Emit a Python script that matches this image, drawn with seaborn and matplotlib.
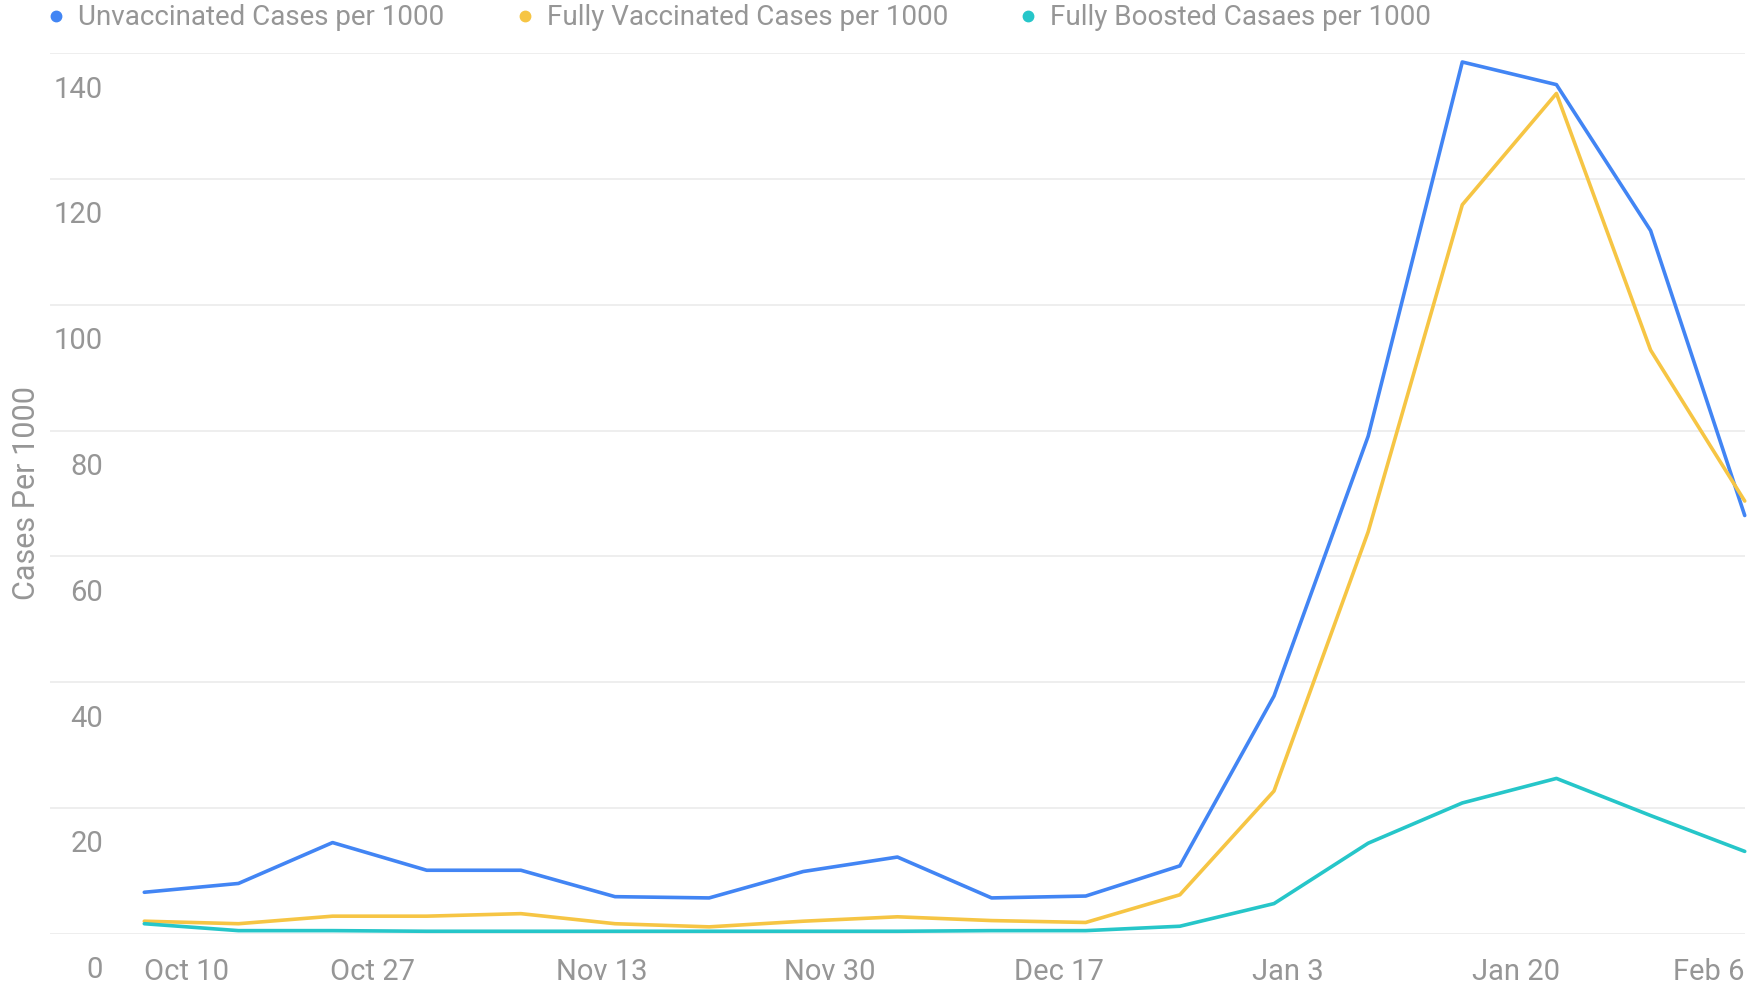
import matplotlib
matplotlib.use("Agg")
import matplotlib.pyplot as plt
from matplotlib.transforms import ScaledTranslation
from matplotlib.lines import Line2D
import seaborn as sns
import pandas as pd
import numpy as np

weeks = pd.date_range("2021-10-10", "2022-02-06", freq="7D")
unvaccinated = [6.6, 8.0, 14.5, 10.1, 10.1, 5.9, 5.7, 9.9, 12.2, 5.7, 6.0, 10.8,
                37.8, 79.1, 138.6, 135.0, 111.8, 66.5]
fully_vaccinated = [2.0, 1.6, 2.8, 2.8, 3.2, 1.6, 1.1, 2.0, 2.7, 2.1, 1.8, 6.2,
                    22.7, 63.9, 115.9, 133.6, 92.8, 68.8]
fully_boosted = [1.6, 0.5, 0.5, 0.4, 0.4, 0.4, 0.4, 0.4, 0.4, 0.5, 0.5, 1.2,
                 4.8, 14.4, 20.8, 24.7, 18.8, 13.1]
series_names = ["Unvaccinated Cases per 1000", "Fully Vaccinated Cases per 1000",
                "Fully Boosted Casaes per 1000"]
colors = ["#4285F4", "#F6C544", "#26C6C9"]
tick_dates = pd.to_datetime(["2021-10-10", "2021-10-27", "2021-11-13", "2021-11-30",
                             "2021-12-17", "2022-01-03", "2022-01-20", "2022-02-06"])
tick_labels = ["Oct 10", "Oct 27", "Nov 13", "Nov 30", "Dec 17", "Jan 3", "Jan 20", "Feb 6"]
y_ticks = [0, 20, 40, 60, 80, 100, 120, 140]

df = pd.DataFrame({
    "date": np.tile(weeks, 3),
    "value": unvaccinated + fully_vaccinated + fully_boosted,
    "series": np.repeat(series_names, len(weeks)),
})

sns.set_theme(style="white")
plt.rcParams["font.family"] = ["Roboto", "DejaVu Sans"]
text_color = "#969696"

fig = plt.figure(figsize=(17.47, 9.85), dpi=100)
ax = fig.add_axes([0.0287, 0.052, 0.970, 0.894])

sns.lineplot(data=df, x="date", y="value", hue="series", hue_order=series_names,
             palette=colors, linewidth=2.6, ax=ax, legend=False)
for ln in ax.lines:
    ln.set_clip_on(False)

ax.set_xlim(weeks[0] - pd.Timedelta(days=7), weeks[-1])
ax.set_ylim(0, 140)
for s in ax.spines.values():
    s.set_visible(False)

ax.set_yticks(y_ticks)
ax.yaxis.grid(True, color="#ebebeb", linewidth=1.2)
ax.set_axisbelow(True)
ax.tick_params(axis="y", length=0, pad=-38, labelsize=21, labelcolor=text_color)
offset = ScaledTranslation(0, -0.335, fig.dpi_scale_trans)
for lab in ax.get_yticklabels():
    lab.set_horizontalalignment("right")
    lab.set_transform(lab.get_transform() + offset)

ax.set_xticks(tick_dates)
ax.set_xticklabels(tick_labels)
ax.tick_params(axis="x", length=0, pad=17.5, labelsize=21, labelcolor=text_color)
xl = ax.get_xticklabels()
xl[0].set_horizontalalignment("left")
xl[-1].set_horizontalalignment("right")

ax.set_xlabel("")
ax.set_ylabel("Cases Per 1000", fontsize=22, color=text_color, va="center")
ax.yaxis.set_label_coords(-0.0138, 0.5)

handles = [Line2D([], [], linestyle="none", marker="o", markersize=7.5, color=c) for c in colors]
fig.legend(handles, series_names, loc="upper left", bbox_to_anchor=(0.0258, 0.9955),
           ncol=3, frameon=False, labelcolor=text_color,
           prop={"size": 20},
           handletextpad=0.4, columnspacing=2.48, handlelength=0.8,
           borderaxespad=0, borderpad=0)

fig.savefig("out.png", dpi=100)
